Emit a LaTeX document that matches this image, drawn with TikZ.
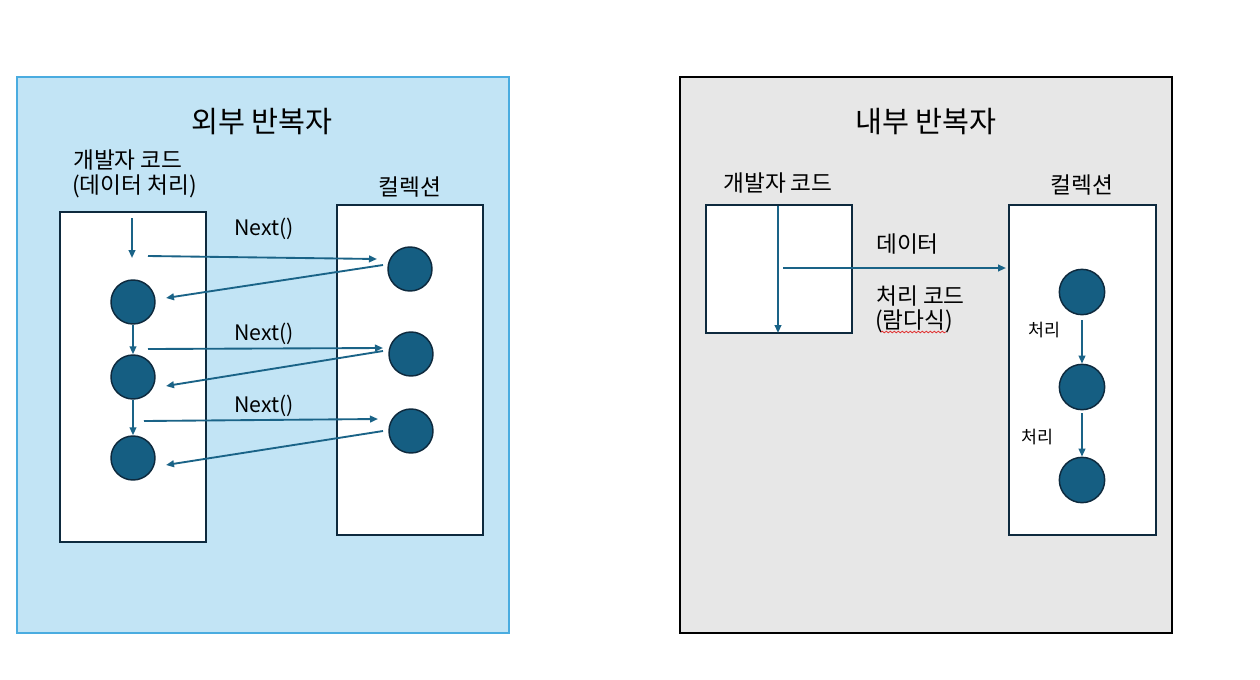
\documentclass[tikz,border=0pt]{standalone}
\usepackage{fontspec}
\setmainfont{Noto Sans CJK KR}
\usetikzlibrary{arrows.meta,decorations.pathmorphing}
\definecolor{panelblue}{HTML}{C2E4F5}
\definecolor{panelblueborder}{HTML}{4AACE0}
\definecolor{panelgray}{HTML}{E7E7E7}
\definecolor{navy}{HTML}{0E2A3E}
\definecolor{dotfill}{HTML}{155E82}
\definecolor{arrowc}{HTML}{1A6387}
\definecolor{squig}{HTML}{E03030}
\begin{document}
\begin{tikzpicture}[x=0.75pt,y=-0.75pt,
  panel/.style={minimum width=369pt,minimum height=417pt,inner sep=0pt},
  box/.style={draw=navy,fill=white,line width=1.5pt,inner sep=0pt},
  dot/.style={circle,draw=navy,line width=1.1pt,fill=dotfill,minimum size=33pt,inner sep=0pt},
  flow/.style={draw=arrowc,line width=1.4pt,-{Triangle[length=6pt,width=5pt]}},
  titletext/.style={font=\fontsize{22pt}{26pt}\selectfont,inner sep=0pt},
  labeltext/.style={font=\fontsize{17pt}{20pt}\selectfont,inner sep=0pt},
  nexttext/.style={font=\fontsize{16pt}{19pt}\selectfont,inner sep=0pt},
  smalltext/.style={font=\fontsize{13pt}{15pt}\selectfont,inner sep=0pt}]
\useasboundingbox (0,0) rectangle (1260,679);
\fill[white] (0,0) rectangle (1260,679);
% panels
\node[panel,draw=panelblueborder,fill=panelblue,line width=1.1pt] (lpanel) at (263,355) {};
\node[panel,draw=black,fill=panelgray,line width=1.3pt] (rpanel) at (926,355) {};
% titles
\node[titletext] (ltitle) at (262,122) {외부 반복자};
\node[titletext] (rtitle) at (926,122) {내부 반복자};
% left panel
\node[labeltext,anchor=west] (ldev1) at (73,160) {개발자 코드};
\node[labeltext,anchor=west] (ldev2) at (72,186) {(데이터 처리)};
\node[labeltext] (lcolt) at (410,187) {컬렉션};
\node[box,minimum width=109.5pt,minimum height=247.5pt] (lcode) at (133,377) {};
\node[box,minimum width=109.5pt,minimum height=247.5pt] (lcoll) at (410,370) {};
\node[dot] (a1) at (133,302) {};
\node[dot] (a2) at (133,377) {};
\node[dot] (a3) at (133,458) {};
\node[dot] (b1) at (410,269) {};
\node[dot] (b2) at (411,354) {};
\node[dot] (b3) at (411,431) {};
\coordinate (s0) at (132,218);
\coordinate (e0) at (132,258);
\coordinate (h1s) at (148,256);
\coordinate (h1e) at (377,259);
\coordinate (h2s) at (148,349);
\coordinate (h2e) at (383,348);
\coordinate (h3s) at (144,421);
\coordinate (h3e) at (378,419);
\coordinate (r1s) at (383,265);
\coordinate (r1e) at (166,298);
\coordinate (r2s) at (383,351);
\coordinate (r2e) at (166,386);
\coordinate (r3s) at (383,431);
\coordinate (r3e) at (166,465);
\draw[flow] (s0) -- (e0);
\draw[flow] (a1.south) -- (a2.north);
\draw[flow] (a2.south) -- (a3.north);
\draw[flow] (h1s) -- (h1e);
\draw[flow] (h2s) -- (h2e);
\draw[flow] (h3s) -- (h3e);
\draw[flow] (r1s) -- (r1e);
\draw[flow] (r2s) -- (r2e);
\draw[flow] (r3s) -- (r3e);
\node[nexttext] (n1) at (264,229) {Next()};
\node[nexttext] (n2) at (264,334) {Next()};
\node[nexttext] (n3) at (264,406) {Next()};
% right panel
\node[labeltext] (rdev) at (778,183) {개발자 코드};
\node[labeltext] (rcolt) at (1082,185) {컬렉션};
\node[box,minimum width=109.5pt,minimum height=96pt] (rcode) at (779,269) {};
\node[box,minimum width=110.25pt,minimum height=247.5pt] (rcoll) at (1082.5,370) {};
\coordinate (vtop) at (778,206);
\coordinate (vbot) at (778,333);
\coordinate (dstart) at (783,268);
\coordinate (dend) at (1006,268);
\draw[flow] (vtop) -- (vbot);
\draw[flow] (dstart) -- (dend);
\node[labeltext,anchor=west] (data) at (876,244) {데이터};
\node[labeltext,anchor=west] (proc) at (876,296) {처리 코드};
\node[labeltext,anchor=west] (lam) at (875,321) {(람다식)};
\draw[squig,line width=0.6pt,decorate,decoration={snake,amplitude=0.6pt,segment length=3pt}] (881,332) -- (946,332);
\node[dot,minimum size=34pt] (c1) at (1082,292) {};
\node[dot,minimum size=34pt] (c2) at (1082,387) {};
\node[dot,minimum size=34pt] (c3) at (1082,480) {};
\coordinate (c1s) at (1082,320);
\draw[flow] (c1s) -- (c2.north);
\coordinate (c2s) at (1082,413);
\draw[flow] (c2s) -- (c3.north);
\node[smalltext] (p1) at (1044,330) {처리};
\node[smalltext] (p2) at (1037,437) {처리};
\end{tikzpicture}
\end{document}
